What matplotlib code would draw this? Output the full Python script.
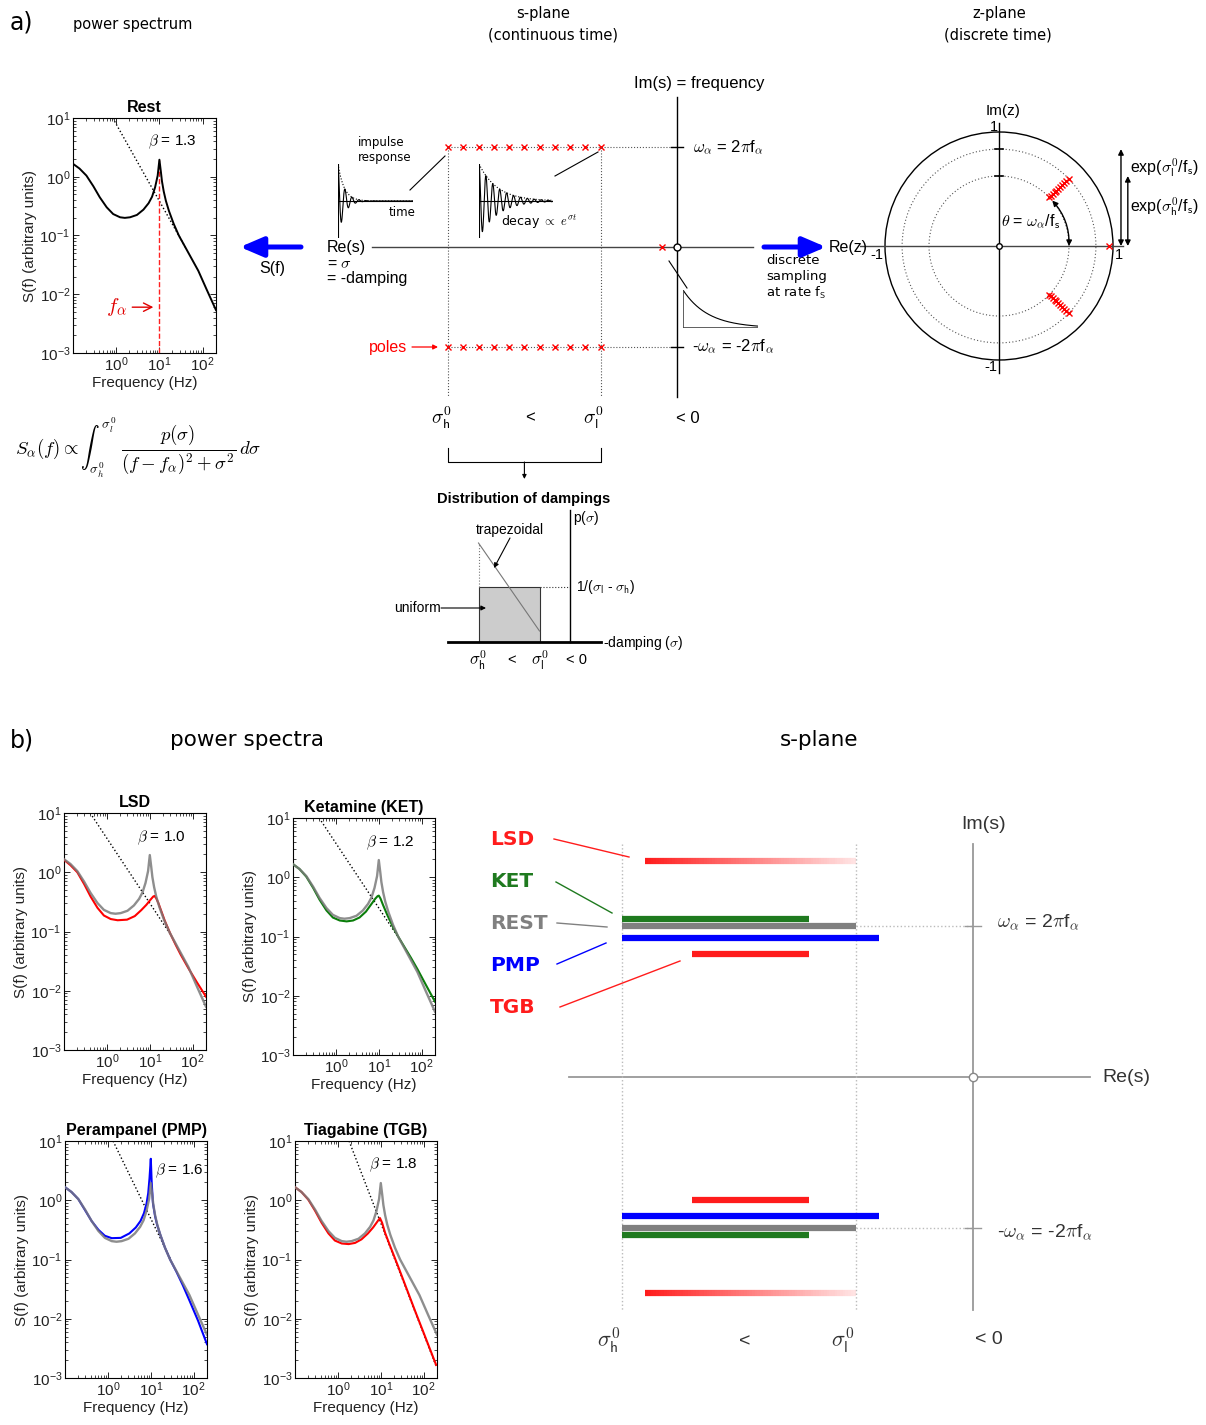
import numpy as np
import matplotlib
matplotlib.use("Agg")
import matplotlib.pyplot as plt
from matplotlib.patches import Circle, Rectangle
from matplotlib.collections import LineCollection

W, H = 1206, 1425

plt.rcParams["font.family"] = ["Liberation Sans", "DejaVu Sans"]
plt.rcParams["mathtext.fontset"] = "cm"
plt.rcParams["axes.unicode_minus"] = False

# ─────────────────────────────────────────────
# spectra as (log10 f, log10 S)
# ─────────────────────────────────────────────
F_LIM = (-1.0, 2.31)
S_LIM = (-3.0, 1.0)

REST_LOGF = [-1.0, -0.85, -0.69, -0.53, -0.38, -0.22, -0.07, 0.09, 0.2, 0.32, 0.48, 0.63, 0.75,
             0.83, 0.9, 0.96, 1.0, 1.035, 1.06, 1.1, 1.15, 1.22, 1.33, 1.45, 1.6, 1.75, 1.9,
             2.1, 2.31]
REST_LOGS = [0.22, 0.14, 0.02, -0.16, -0.35, -0.52, -0.635, -0.69, -0.70, -0.69, -0.65, -0.56,
             -0.45, -0.34, -0.18, 0.02, 0.29, 0.08, -0.08, -0.25, -0.41, -0.58, -0.80, -1.0,
             -1.2, -1.4, -1.6, -1.93, -2.27]

LSD_LOGF = [-1.0, -0.85, -0.69, -0.53, -0.38, -0.22, -0.07, 0.09, 0.25, 0.47, 0.65, 0.8, 0.92,
            1.02, 1.08, 1.11, 1.15, 1.2, 1.25, 1.35, 1.48, 1.6, 1.72, 1.9, 2.1, 2.31]
LSD_LOGS = [0.21, 0.12, 0.0, -0.2, -0.41, -0.6, -0.73, -0.79, -0.81, -0.80, -0.74, -0.64, -0.55,
            -0.46, -0.41, -0.40, -0.44, -0.52, -0.62, -0.82, -1.04, -1.22, -1.39, -1.62, -1.86,
            -2.10]

KET_LOGF = [-1.0, -0.85, -0.69, -0.53, -0.38, -0.22, -0.07, 0.09, 0.25, 0.4, 0.55, 0.7, 0.82,
            0.92, 0.97, 1.0, 1.04, 1.1, 1.2, 1.33, 1.45, 1.6, 1.75, 1.9, 2.1, 2.31]
KET_LOGS = [0.22, 0.14, 0.01, -0.18, -0.38, -0.56, -0.68, -0.73, -0.745, -0.73, -0.68, -0.58,
            -0.46, -0.36, -0.32, -0.31, -0.36, -0.47, -0.64, -0.84, -1.0, -1.18, -1.36, -1.55,
            -1.82, -2.1]

PMP_LOGF = [-1.0, -0.85, -0.69, -0.53, -0.38, -0.22, -0.07, 0.09, 0.3, 0.5, 0.65, 0.76, 0.84,
            0.9, 0.94, 0.97, 1.0, 1.02, 1.05, 1.1, 1.15, 1.22, 1.33, 1.45, 1.6, 1.75, 1.9,
            2.1, 2.31]
PMP_LOGS = [0.22, 0.14, 0.02, -0.17, -0.35, -0.5, -0.6, -0.64, -0.635, -0.56, -0.46, -0.35,
            -0.22, -0.06, 0.12, 0.37, 0.70, 0.31, -0.05, -0.27, -0.42, -0.58, -0.80, -1.0,
            -1.21, -1.44, -1.69, -2.03, -2.43]

TGB_LOGF = [-1.0, -0.85, -0.69, -0.53, -0.38, -0.22, -0.07, 0.09, 0.25, 0.4, 0.55, 0.7, 0.82,
            0.92, 0.98, 1.03, 1.1, 1.2, 1.4, 1.6, 1.8, 2.0, 2.15, 2.29]
TGB_LOGS = [0.22, 0.14, 0.01, -0.18, -0.38, -0.56, -0.68, -0.73, -0.74, -0.72, -0.66, -0.56,
            -0.46, -0.36, -0.30, -0.38, -0.55, -0.74, -1.11, -1.49, -1.87, -2.24, -2.52, -2.78]

# 1/f^beta guides (dotted), end points (log10 f, log10 S)
REST_PL_LOGF, REST_PL_LOGS = [-0.08, 1.6], [1.0, -1.2]
LSD_PL_LOGF, LSD_PL_LOGS = [-0.39, 1.5], [1.0, -1.07]
KET_PL_LOGF, KET_PL_LOGS = [-0.39, 1.55], [1.0, -1.12]
PMP_PL_LOGF, PMP_PL_LOGS = [0.12, 1.45], [1.0, -0.98]
TGB_PL_LOGF, TGB_PL_LOGS = [0.26, 2.29], [1.0, -2.8]

BETAS = ["1.3", "1.0", "1.2", "1.6", "1.8"]
BETA_POS = [(0.73, 0.6), (0.70, 0.58), (0.70, 0.58), (1.10, 0.49), (0.72, 0.60)]
PANEL_TITLES = ["Rest", "LSD", "Ketamine (KET)", "Perampanel (PMP)", "Tiagabine (TGB)"]
PANEL_COLORS = ["k", "#ff0000", "#0a7d0a", "#0000ff", "#ff0000"]
F_ALPHA = 10.0

# ─────────────────────────────────────────────
# s-plane / z-plane / damping distribution
# ─────────────────────────────────────────────
SIG_H, SIG_L = -3.0, -1.0
POLE_SIGMAS = [-3.0, -2.8, -2.6, -2.4, -2.2, -2.0, -1.8, -1.6, -1.4, -1.2, -1.0]
OMEGA_ALPHA = 1.0
SLOW_POLE = -0.2
Z_FS = 6.15            # sampling rate (s-plane units)
THETA_DEG = 44.0       # drawn pole angle in the z-plane
P_UNIFORM = 1.0 / (SIG_L - SIG_H)
P_TRAP = [0.9, 0.1]

BAR_LABELS = ["LSD", "KET", "REST", "PMP", "TGB"]
BAR_SIG_START = [-2.80, -3.0, -3.0, -3.0, -2.40]
BAR_SIG_END = [-1.0, -1.40, -1.0, -0.80, -1.40]
BAR_OMEGA = [1.43, 1.045, 1.0, 0.92, 0.815]
BAR_COLORS = ["#ff1c1c", "#1f7a1f", "#808080", "#0000ff", "#ff1c1c"]
BAR_FADE = [True, False, False, False, False]

fig = plt.figure(figsize=(W / 100, H / 100), dpi=100)


def px_rect(x0, y0, x1, y1):
    return [x0 / W, 1 - y1 / H, (x1 - x0) / W, (y1 - y0) / H]


def schematic_axes(x0, y0, x1, y1, ox, oy, sx, sy):
    """axes over a pixel box, data origin at (ox, oy) px, sx/sy px per unit"""
    ax = fig.add_axes(px_rect(x0, y0, x1, y1))
    ax.set_xlim((x0 - ox) / sx, (x1 - ox) / sx)
    ax.set_ylim((oy - y1) / sy, (oy - y0) / sy)
    ax.axis("off")
    return ax


def spectrum_axes(rect, title):
    ax = fig.add_axes(px_rect(*rect))
    ax.set_xscale("log")
    ax.set_yscale("log")
    ax.set_xlim(10 ** F_LIM[0], 10 ** F_LIM[1])
    ax.set_ylim(10 ** S_LIM[0], 10 ** S_LIM[1])
    ax.set_xticks([1, 10, 100])
    ax.set_yticks([1e-3, 1e-2, 1e-1, 1, 10])
    ax.tick_params(which="both", direction="in", top=True, right=True, labelsize=11, pad=2,
                   labelcolor="#222")
    ax.tick_params(which="major", length=4, width=0.6)
    ax.tick_params(which="minor", length=2, width=0.5)
    for sp in ax.spines.values():
        sp.set_linewidth(0.8)
    ax.set_xlabel("Frequency (Hz)", fontsize=11, labelpad=1, color="#222")
    ax.set_ylabel("S(f) (arbitrary units)", fontsize=11, labelpad=2, color="#222")
    ax.set_title(title, fontsize=11.5, fontweight="bold", pad=4)
    return ax


def p10(v):
    return np.power(10.0, np.asarray(v, dtype=float))


# ── a) power spectrum + b) power spectra ─────────
panel_rects = [(73, 118, 216, 353), (64, 813, 206, 1050), (293, 818, 435, 1055),
               (65, 1141, 207, 1378), (295, 1141, 437, 1378)]
panel_f = [REST_LOGF, LSD_LOGF, KET_LOGF, PMP_LOGF, TGB_LOGF]
panel_s = [REST_LOGS, LSD_LOGS, KET_LOGS, PMP_LOGS, TGB_LOGS]
panel_pl = [(REST_PL_LOGF, REST_PL_LOGS), (LSD_PL_LOGF, LSD_PL_LOGS), (KET_PL_LOGF, KET_PL_LOGS),
            (PMP_PL_LOGF, PMP_PL_LOGS), (TGB_PL_LOGF, TGB_PL_LOGS)]

for i, rect in enumerate(panel_rects):
    ax = spectrum_axes(rect, PANEL_TITLES[i])
    ax.plot(p10(panel_pl[i][0]), p10(panel_pl[i][1]), ":", color="k", lw=1.0, zorder=2)
    if i == 0:
        ax.plot([F_ALPHA, F_ALPHA], [10 ** S_LIM[0], 10 ** max(REST_LOGS)], "--",
                color="#ff2020", lw=1.0, zorder=2)
        ax.plot(p10(REST_LOGF), p10(REST_LOGS), color="k", lw=1.4, zorder=3)
        ax.annotate(r"$f_\alpha$", xy=(10 ** 0.86, 10 ** -2.22), xytext=(10 ** 0.0, 10 ** -2.22),
                    color="#e00000", fontsize=15, ha="center", va="center",
                    arrowprops=dict(arrowstyle="->", color="#e00000", lw=1.0,
                                    shrinkA=2, shrinkB=0))
    else:
        ax.plot(p10(panel_f[i]), p10(panel_s[i]), color=PANEL_COLORS[i], lw=1.5, zorder=3)
        ax.plot(p10(REST_LOGF), p10(REST_LOGS), color="#7a7a7a", lw=1.7, alpha=0.85, zorder=4)
    bx, by = BETA_POS[i]
    ax.text(10 ** bx, 10 ** by, r"$\beta$ = " + BETAS[i], fontsize=11, ha="left", va="center")

# ── a) s-plane (continuous time) ─────────────────
sp = schematic_axes(330, 95, 760, 485, 677, 247, 76.3, 100)
sp.plot([-4.0, 1.0], [0, 0], color="#444", lw=1.0)
sp.plot([0, 0], [-1.5, 1.5], color="k", lw=1.0)
sp.plot(0, 0, "o", mfc="white", mec="k", ms=5, mew=1)
for w in (OMEGA_ALPHA, -OMEGA_ALPHA):
    sp.plot([SIG_H, 0], [w, w], ":", color="#555", lw=0.8)
    sp.plot([-0.08, 0.08], [w, w], color="k", lw=1.0)
    sp.plot(POLE_SIGMAS, [w] * len(POLE_SIGMAS), "x", color="red", ms=5, mew=1.0)
for s in (SIG_H, SIG_L):
    sp.plot([s, s], [OMEGA_ALPHA, -1.5], ":", color="#555", lw=0.8)
sp.plot(SLOW_POLE, 0, "x", color="red", ms=5, mew=1.0)
# bracket below sigma range
sp.plot([SIG_H, SIG_H, SIG_L, SIG_L], [-2.01, -2.15, -2.15, -2.01], color="k", lw=0.8)
sp.annotate("", xy=((SIG_H + SIG_L) / 2, -2.32), xytext=((SIG_H + SIG_L) / 2, -2.15),
            arrowprops=dict(arrowstyle="-|>", color="k", lw=0.8, mutation_scale=6,
                            shrinkA=0, shrinkB=0))


def impulse_inset(x0, y0, x1, y1, sigma, n_periods, rate):
    ia = fig.add_axes(px_rect(x0, y0, x1, y1))
    ia.axis("off")
    t = np.linspace(0, n_periods, 600)
    env = np.exp(sigma * rate * t)
    ia.plot(t, env * np.cos(2 * np.pi * t), color="k", lw=0.8)
    ia.plot(t, env, ":", color="k", lw=0.8)
    ia.plot([0, n_periods], [0, 0], color="k", lw=0.8)
    ia.plot([0, 0], [-1, 1], color="k", lw=0.8)
    ia.set_xlim(0, n_periods)
    ia.set_ylim(-1.0, 1.0)
    return ia


impulse_inset(338, 164, 413, 238, SIG_H, 10.7, 0.38)
impulse_inset(479, 164, 553, 238, SIG_L, 10.7, 0.38)

# slow pole: pure exponential decay
da = fig.add_axes(px_rect(683, 290, 758, 328))
da.axis("off")
td = np.linspace(0, 15, 200)
da.plot(td, np.exp(SLOW_POLE * td), color="k", lw=0.8)
da.plot([0, 0], [0, 1], color="#444", lw=1.2)
da.plot([0, 15], [0, 0], color="#444", lw=1.2)
da.set_xlim(0, 15)
da.set_ylim(0, 1)

# ── a) z-plane (discrete time) ───────────────────
zp = schematic_axes(860, 95, 1206, 395, 999, 246, 114, 114)
r_l = np.exp(SIG_L / Z_FS)
r_h = np.exp(SIG_H / Z_FS)
zp.add_patch(Circle((0, 0), 1.0, fill=False, ec="k", lw=1.0))
for r in (r_l, r_h):
    zp.add_patch(Circle((0, 0), r, fill=False, ec="#555", lw=0.8, ls=(0, (1, 2))))
    zp.plot([-0.035, 0.035], [r, r], color="k", lw=1.2)
zp.plot([-1.27, 1.09], [0, 0], color="#444", lw=1.0)
zp.plot([0, 0], [-1.11, 1.08], color="k", lw=1.0)
zp.plot(0, 0, "o", mfc="white", mec="k", ms=4, mew=1)
th = np.deg2rad(THETA_DEG)
rz = np.exp(np.array(POLE_SIGMAS) / Z_FS)
zp.plot(rz * np.cos(th), rz * np.sin(th), "x", color="red", ms=5, mew=1.0)
zp.plot(rz * np.cos(th), -rz * np.sin(th), "x", color="red", ms=5, mew=1.0)
zp.plot(np.exp(SLOW_POLE / Z_FS), 0, "x", color="red", ms=4, mew=1.0)
zp.annotate("", xy=(r_h, 0.0), xytext=(r_h * np.cos(th * 0.92), r_h * np.sin(th * 0.92)),
            arrowprops=dict(arrowstyle="<|-|>", color="k", lw=1.0, mutation_scale=8,
                            shrinkA=0, shrinkB=0, connectionstyle="arc3,rad=-0.2"))
for x, r in ((1.07, r_l), (1.13, r_h)):
    zp.annotate("", xy=(x, r), xytext=(x, 0),
                arrowprops=dict(arrowstyle="<|-|>", color="k", lw=1.0, mutation_scale=8,
                                shrinkA=0, shrinkB=0))

# ── distribution of dampings ─────────────────────
dd = schematic_axes(385, 500, 700, 680, 570, 642, 30.5, 110)
dd.add_patch(Rectangle((SIG_H, 0), SIG_L - SIG_H, P_UNIFORM, fc="#cccccc", ec="#333", lw=0.8))
dd.plot([SIG_H, SIG_L], P_TRAP, color="#777", lw=0.8)
dd.plot([SIG_H, SIG_H], [P_UNIFORM, P_TRAP[0]], ":", color="#777", lw=0.8)
dd.plot([SIG_L, 0], [P_UNIFORM, P_UNIFORM], ":", color="#333", lw=0.8)
dd.plot([-4.0, 1.0], [0, 0], color="k", lw=2.0, clip_on=False)
dd.plot([0, 0], [0, 1.2], color="k", lw=1.0)

# ── b) s-plane ───────────────────────────────────
bp = schematic_axes(560, 830, 1100, 1320, 973, 1077, 117, 151)
bp.plot([-3.45, 1.0], [0, 0], color="#999", lw=1.3)
bp.plot([0, 0], [-1.54, 1.54], color="#999", lw=1.3)
bp.plot(0, 0, "o", mfc="white", mec="#888", ms=6, mew=1)
for s in (SIG_H, SIG_L):
    bp.plot([s, s], [1.54, -1.54], ":", color="#bbb", lw=1.0)
for w in (OMEGA_ALPHA, -OMEGA_ALPHA):
    bp.plot([SIG_L, 0], [w, w], ":", color="#bbb", lw=1.0)
    bp.plot([-0.07, 0.07], [w, w], color="#999", lw=1.0)
for k in range(len(BAR_LABELS)):
    for sgn in (1, -1):
        y = sgn * BAR_OMEGA[k]
        if BAR_FADE[k]:
            xs = np.linspace(BAR_SIG_START[k], BAR_SIG_END[k], 80)
            segs = [[(xs[j], y), (xs[j + 1], y)] for j in range(len(xs) - 1)]
            rgba = np.array([matplotlib.colors.to_rgba(BAR_COLORS[k])] * len(segs))
            rgba[:, 3] = np.linspace(1.0, 0.12, len(segs))
            bp.add_collection(LineCollection(segs, colors=rgba, linewidths=4.5, capstyle="butt"))
        else:
            bp.plot([BAR_SIG_START[k], BAR_SIG_END[k]], [y, y], color=BAR_COLORS[k],
                    lw=4.5, solid_capstyle="butt")

# ─────────────────────────────────────────────
# overlay: labels, arrows, connectors (pixel coords)
# ─────────────────────────────────────────────
ov = fig.add_axes([0, 0, 1, 1])
ov.set_xlim(0, W)
ov.set_ylim(H, 0)
ov.axis("off")
ov.set_zorder(10)

DV = "DejaVu Sans"


def T(x, y, s, fs=11, ha="left", va="center", **kw):
    ov.text(x, y, s, fontsize=fs, ha=ha, va=va, **kw)


def arrow(x0, y0, x1, y1, color="k", lw=0.8, ms=8, style="-|>"):
    ov.annotate("", xy=(x1, y1), xytext=(x0, y0),
                arrowprops=dict(arrowstyle=style, color=color, lw=lw, mutation_scale=ms,
                                shrinkA=0, shrinkB=0))


def line(x0, y0, x1, y1, color="k", lw=0.8):
    ov.plot([x0, x1], [y0, y1], color=color, lw=lw)


# headers
T(10, 22, "a)", 17, family=DV)
T(73, 24, "power spectrum", 10.5, family=DV)
T(543, 13, "s-plane", 10.5, ha="center", family=DV)
T(553, 35, "(continuous time)", 10.5, ha="center", family=DV)
T(999, 13, "z-plane", 10.5, ha="center", family=DV)
T(998, 35, "(discrete time)", 10.5, ha="center", family=DV)

# s-plane labels
T(699, 83, "Im(s) = frequency", 12, ha="center")
T(358, 142, "impulse", 8.5, family=DV)
T(358, 157, "response", 8.5, family=DV)
T(389, 212, "time", 8.5, family=DV)
T(501, 222, r"decay $\propto$ $e^{\sigma t}$", 9, family=DV)
T(327, 247, "Re(s)", 11.5)
T(327, 263, r"= $\sigma$", 11.5)
T(327, 278, "= -damping", 11.5)
T(693, 148, r"$\omega_\alpha$ = 2$\pi$f$_\alpha$", 12)
T(692, 347, r"-$\omega_\alpha$ = -2$\pi$f$_\alpha$", 12)
T(369, 347, "poles", 11.5, color="red")
arrow(412, 347, 438, 347, color="red", lw=0.9, ms=7)
T(441, 418, r"$\sigma^0_\mathsf{h}$", 14, ha="center")
T(530, 418, "<", 12, ha="center")
T(593, 418, r"$\sigma^0_\mathsf{l}$", 14, ha="center")
T(688, 418, "< 0", 12, ha="center")
line(410, 190, 445, 156)
line(555, 176, 598, 152)
line(669, 261, 687, 288)
T(766, 260, "discrete", 9.5, family=DV)
T(766, 276, "sampling", 9.5, family=DV)
T(766, 293, r"at rate f$_\mathsf{S}$", 9.5, family=DV)

# blue arrows
arrow(301, 247, 240, 247, color="#0000ff", lw=3.6, ms=20, style="-|>,head_length=0.7,head_width=0.3")
arrow(764, 247, 826, 247, color="#0000ff", lw=3.6, ms=20, style="-|>,head_length=0.7,head_width=0.3")
T(272, 268, "S(f)", 11.5, ha="center")
T(829, 247, "Re(z)", 11.5)

# z-plane labels
T(1003, 111, "Im(z)", 11, ha="center")
T(998, 127, "1", 10.5, ha="right")
T(997, 367, "-1", 10.5, ha="right")
T(883, 255, "-1", 10.5, ha="right")
T(1115, 255, "1", 10.5)
T(1001, 222, r"$\theta$ = $\omega_\alpha$/f$_\mathsf{s}$", 11.5)
T(1130, 168, r"exp($\sigma^0_\mathsf{l}$/f$_\mathsf{s}$)", 11.5)
T(1130, 207, r"exp($\sigma^0_\mathsf{h}$/f$_\mathsf{s}$)", 11.5)

# equation
T(15, 448, r"$S_\alpha(f) \propto \int_{\sigma_h^0}^{\sigma_l^0}\ \dfrac{p(\sigma)}{(f-f_\alpha)^2+\sigma^2}\,d\sigma$", 13.5)

# distribution labels
T(524, 499, "Distribution of dampings", 10.5, ha="center", fontweight="bold")
T(573, 518, r"p($\sigma$)", 10)
T(510, 530, "trapezoidal", 10, ha="center")
arrow(510, 538, 494, 568, lw=0.8, ms=7)
T(441, 608, "uniform", 10, ha="right")
arrow(441, 608, 486, 608, lw=0.8, ms=7)
T(576, 587, r"1/($\sigma_\mathsf{l}$ - $\sigma_\mathsf{h}$)", 10)
T(603, 643, r"-damping ($\sigma$)", 10)
T(478, 660, r"$\sigma^0_\mathsf{h}$", 12, ha="center")
T(512, 660, "<", 10.5, ha="center")
T(540, 660, r"$\sigma^0_\mathsf{l}$", 12, ha="center")
T(577, 660, "< 0", 10.5, ha="center")

# b) headers
T(10, 740, "b)", 17, family=DV)
T(170, 740, "power spectra", 15.5, family=DV)
T(780, 740, "s-plane", 15.5, family=DV)

# b) s-plane labels
label_y = [839, 881, 923, 965, 1007]
conn = [(554, 839, 629, 857), (556, 882, 612, 913), (557, 923, 607, 927),
        (557, 964, 606, 943), (560, 1007, 680, 961)]
for k, name in enumerate(BAR_LABELS):
    T(490, label_y[k], name, 14.5, family=DV, fontweight="bold", color=BAR_COLORS[k])
    line(*conn[k], color=BAR_COLORS[k], lw=1.0)
T(961, 824, "Im(s)", 14, color="#333")
T(997, 922, r"$\omega_\alpha$ = 2$\pi$f$_\alpha$", 14, color="#333")
T(997, 1232, r"-$\omega_\alpha$ = -2$\pi$f$_\alpha$", 14, color="#333")
T(1102, 1078, "Re(s)", 14, color="#333")
T(609, 1340, r"$\sigma^0_\mathsf{h}$", 16, ha="center", color="#333")
T(745, 1342, "<", 14, ha="center", color="#333")
T(843, 1340, r"$\sigma^0_\mathsf{l}$", 16, ha="center", color="#333")
T(989, 1340, "< 0", 14, ha="center", color="#333")

fig.savefig("out.png", dpi=100, facecolor="white")
